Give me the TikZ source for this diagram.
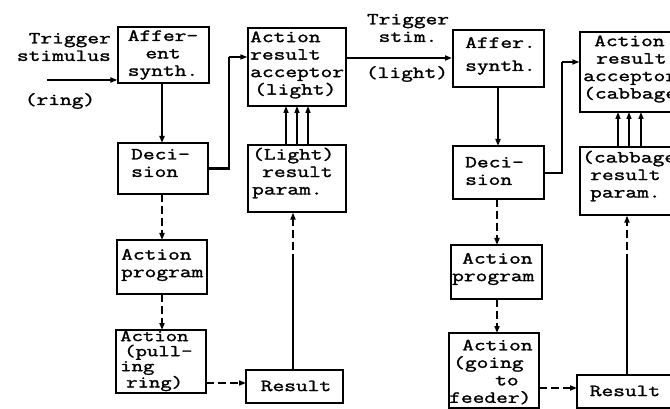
\documentclass[tikz,border=0pt]{standalone}
\usepackage{fontspec}
\newfontfamily\typew[FakeStretch=1.34,FakeBold=1.6]{Latin Modern Mono}
\usetikzlibrary{arrows.meta}
\begin{document}
\begin{tikzpicture}[x=1pt,y=-1pt,
  boxst/.style={draw,line width=1.2pt,inner sep=0pt,minimum width=#1},
  txt/.style={font=\typew\fontsize{17}{17.5}\selectfont,inner sep=0pt},
  tipst/.style={-{Triangle[length=7pt,width=5pt]}},
  solidc/.style={line width=2.4pt},
  dashc/.style={line width=2pt,dash pattern=on 8pt off 4pt},
  thinc/.style={line width=1.5pt}
]
\useasboundingbox (0,0) rectangle (670,409);
\clip (0,0) rectangle (670,409);
\fill[white] (0,0) rectangle (670,409);
\newcommand{\bx}[5]{\node[boxst=#4-#2, minimum height=#5-#3] (#1) at ({(#2+#4)/2},{(#3+#5)/2}) {};}
% boxes
\bx{A1}{118}{27}{209}{83}
\bx{D1}{118}{143}{208}{194}
\bx{P1}{117}{240}{207}{294}
\bx{AC1}{116}{330}{206}{393}
\bx{R1}{246}{370}{343}{403}
\bx{ACC1}{248}{28}{346}{106}
\bx{PAR1}{248}{145}{346}{212}
\bx{A2}{453}{30}{544}{87}
\bx{D2}{453}{146}{544}{199}
\bx{P2}{451}{245}{542}{299}
\bx{AC2}{449}{333}{539}{408}
\bx{R2}{577}{375}{680}{408}
\bx{ACC2}{580}{32}{680}{112}
\bx{PAR2}{580}{147}{680}{215}
% texts
\node[txt,align=right,anchor=east] (t1) at (111,47) {Trigger\\stimulus};
\node[txt] (t2) at (60,101) {(ring)};
\node[txt,align=center] (tA1) at (163,55) {Affer-\\ent\\synth.};
\node[txt,align=left,anchor=west] (tD1) at (131,163) {Deci-\\sion};
\node[txt,align=left,anchor=west] (tP1) at (121,265) {Action\\program};
\node[txt,align=left,anchor=west,font=\typew\fontsize{16.5}{15}\selectfont] (tAC1) at (120,361) {Action\\\hspace*{4pt}(pull-\\ing\\\hspace*{6pt}ring)};
\node[txt] (tR1) at (296,386) {Result};
\node[txt,align=left,anchor=west] (tACC1) at (250,65) {Action\\result\\acceptor\\\hspace*{4pt}(light)};
\node[txt,align=left,anchor=west] (tPAR1) at (252,173) {(Light)\\\hspace*{10pt}result\\param.};
\node[txt,align=center] (t3) at (408,28) {Trigger\\stim.};
\node[txt] (t4) at (407,74) {(light)};
\node[txt,align=left,anchor=west,font=\typew\fontsize{17}{23}\selectfont] (tA2) at (465,56) {Affer.\\synth.};
\node[txt,align=left,anchor=west] (tD2) at (465,171) {Deci-\\sion};
\node[txt,align=left,anchor=west] (tP2) at (452,269) {\hspace*{10pt}Action\\program};
\node[txt,align=left,anchor=west] (tAC2) at (449,372) {\hspace*{13pt}Action\\\hspace*{4pt}(going\\\hspace*{46pt}to\\feeder)};
\node[txt] (tR2) at (625,391) {Result};
\node[txt,align=left,anchor=west] (tACC2) at (583,69) {\hspace*{11pt}Action\\\hspace*{13pt}result\\acceptor\\(cabbage)};
\node[txt,align=left,anchor=west] (tPAR2) at (582,176) {(cabbage)\\\hspace*{8pt}result\\\hspace*{8pt}param.};
% coordinates
\coordinate (trig) at (47,80);
\coordinate (c1) at (229,57);
\coordinate (c2) at (562,62);
\coordinate (m1) at (293,262);
\coordinate (m2) at (627,262);
% connectors left
\draw[solidc,tipst] (trig) -- (trig -| A1.west);
\draw[solidc,tipst] (162,83) -- (162,143);
\draw[solidc] (D1.east) -| (c1);
\draw[thinc,tipst] (c1) -- (c1 -| ACC1.west);
\draw[dashc,tipst] (162,194) -- (162,240);
\draw[dashc,tipst] (162,294) -- (162,330);
\draw[dashc,tipst] (206,383) -- (246,383);
\draw[solidc] (R1.north -| m1) -- (m1);
\draw[dashc,tipst] (m1) -- (m1 |- PAR1.south);
\foreach \xx in {286,297,308}{\draw[thinc,tipst] (\xx,145) -- (\xx,106);}
% middle
\draw[solidc,tipst] (ACC1.east |- 0,58) -- (452,58);
% right
\draw[solidc,tipst] (498,87) -- (498,146);
\draw[solidc] (D2.east |- 0,173) -| (c2);
\draw[thinc,tipst] (c2) -- (c2 -| ACC2.west);
\draw[dashc,tipst] (497,199) -- (497,245);
\draw[dashc,tipst] (497,299) -- (497,333);
\draw[dashc,tipst] (539,388) -- (577,388);
\draw[solidc] (R2.north -| m2) -- (m2);
\draw[dashc,tipst] (m2) -- (m2 |- PAR2.south);
\foreach \xx in {618,629,641}{\draw[thinc,tipst] (\xx,147) -- (\xx,112);}
\end{tikzpicture}
\end{document}
